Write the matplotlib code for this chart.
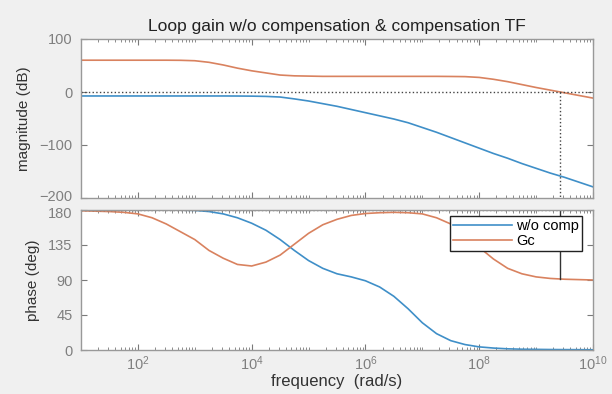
import matplotlib
matplotlib.use("Agg")
import matplotlib.pyplot as plt
import matplotlib.transforms as mtransforms
import numpy as np
from matplotlib.ticker import LogLocator, NullFormatter, FixedLocator

# frequency grid, in decades (log10 of rad/s), read at quarter decades
decades = [1.0, 1.25, 1.5, 1.75, 2.0, 2.25, 2.5, 2.75, 3.0, 3.25, 3.5, 3.75,
           4.0, 4.25, 4.5, 4.75, 5.0, 5.25, 5.5, 5.75, 6.0, 6.25, 6.5, 6.75,
           7.0, 7.25, 7.5, 7.75, 8.0, 8.25, 8.5, 8.75, 9.0, 9.25, 9.5, 9.75,
           10.0]

mag_nocomp = [-7.5, -7.5, -7.5, -7.5, -7.5, -7.5, -7.5, -7.5, -7.5, -7.5,
              -7.5, -7.6, -7.8, -8.3, -9.5, -13, -17, -22, -27, -33, -39,
              -45, -51, -58, -67, -76, -86, -96, -106, -116, -125, -135,
              -144, -153, -161, -170, -179]
mag_gc = [60, 60, 60, 60, 60, 60, 60, 59.8, 59, 56, 51, 45, 40, 36, 32,
          30.5, 30, 29.5, 29.5, 29.5, 29.5, 29.5, 29.5, 29.5, 29.5, 29.5,
          29.3, 29, 27.5, 24, 19.5, 14, 8.5, 3.5, -1.5, -6.5, -11.5]

phase_nocomp = [180, 180, 180, 180, 180, 180, 180, 179.8, 179.5, 178, 175,
                170, 163, 154, 142, 128, 115, 105, 98, 94, 89, 81, 69, 53,
                35, 21, 12, 7, 4, 2.5, 1.5, 1, 0.8, 0.6, 0.5, 0.4, 0.3]
phase_gc = [179, 178.5, 178, 177, 175, 170, 162, 152, 142, 128, 118, 110,
            108, 113, 122, 136, 150, 161, 168, 173, 175.5, 176.5, 177,
            176.5, 175, 170, 162, 148, 132, 117, 105, 98, 94, 92, 91,
            90.5, 90]

crossover_decade = 9.42

freq = 10.0 ** np.array(decades)
wc = 10.0 ** crossover_decade
phase_at_wc = np.interp(crossover_decade, decades, phase_gc)

blue = "#3f8fc8"
orange = "#d9825f"
grey = "#7a7a7a"

plt.rcParams["font.family"] = ["Liberation Sans", "DejaVu Sans"]

fig = plt.figure(figsize=(6.12, 3.94), dpi=100)
fig.patch.set_facecolor("#f0f0f0")

ax1 = fig.add_axes([81 / 612, 1 - 198 / 394, 512 / 612, 159 / 394])
ax2 = fig.add_axes([81 / 612, 1 - 350 / 394, 512 / 612, 140 / 394])

ax1.plot(freq, mag_nocomp, color=blue, linewidth=1.2)
ax1.plot(freq, mag_gc, color=orange, linewidth=1.2)
ax1.axhline(0, color="#444444", linestyle=":", linewidth=1.0)
ax1.plot([wc, wc], [0, -200], color="#444444", linestyle=":", linewidth=1.0)
ax1.set_ylim(-200, 100)
ax1.set_yticks([-200, -100, 0, 100])
ax1.set_ylabel("magnitude (dB)", fontsize=11, labelpad=6)
ax1.set_title("Loop gain w/o compensation & compensation TF", fontsize=12.5,
              color="#222222", pad=6)

ax2.plot(freq, phase_nocomp, color=blue, linewidth=1.2, label="w/o comp")
ax2.plot(freq, phase_gc, color=orange, linewidth=1.2, label="Gc")
ax2.axhline(180, color="#444444", linestyle=":", linewidth=1.0)
ax2.plot([wc, wc], [180, phase_at_wc], color="#333333", linewidth=1.0)
ax2.set_ylim(0, 180)
ax2.set_yticks([0, 45, 90, 135, 180])
ax2.set_ylabel("phase (deg)", fontsize=11, labelpad=6)
ax2.set_xlabel("frequency  (rad/s)", fontsize=12, labelpad=1)
leg = ax2.legend(loc="upper right", bbox_to_anchor=(0.978, 0.955), fontsize=10.5,
                 frameon=True, fancybox=False, framealpha=1, handlelength=4.0,
                 borderpad=0.2, labelspacing=0.05, handletextpad=0.3,
                 borderaxespad=0)
leg.get_frame().set_edgecolor("#222222")
leg.get_frame().set_linewidth(1.0)

for ax in (ax1, ax2):
    ax.set_xscale("log")
    ax.set_xlim(1e1, 1e10)
    ax.set_facecolor("white")
    ax.xaxis.set_major_locator(FixedLocator([1e2, 1e4, 1e6, 1e8, 1e10]))
    ax.xaxis.set_minor_locator(LogLocator(base=10, subs=np.arange(1, 10), numticks=50))
    ax.xaxis.set_minor_formatter(NullFormatter())
    ax.tick_params(which="both", direction="in", top=True, right=True,
                   colors=grey, labelcolor="#7f7f7f", labelsize=10.5)
    ax.tick_params(axis="y", pad=6)
    ax.tick_params(axis="x", pad=3)
    ax.tick_params(which="major", length=4)
    ax.tick_params(which="minor", length=2)
    ax.yaxis.label.set_color("#333333")
    for s in ax.spines.values():
        s.set_color("#999999")
        s.set_linewidth(1.0)

ax1.tick_params(labelbottom=False)
ax2.xaxis.label.set_color("#333333")

# nudge the -200 / 180 labels apart so they don't touch
fig.canvas.draw()
up = mtransforms.ScaledTranslation(0, 2 / 72, fig.dpi_scale_trans)
down = mtransforms.ScaledTranslation(0, -2 / 72, fig.dpi_scale_trans)
lbl = ax1.get_yticklabels()[0]
lbl.set_transform(lbl.get_transform() + up)
lbl = ax2.get_yticklabels()[-1]
lbl.set_transform(lbl.get_transform() + down)

fig.savefig("out.png", dpi=100, facecolor=fig.get_facecolor())
